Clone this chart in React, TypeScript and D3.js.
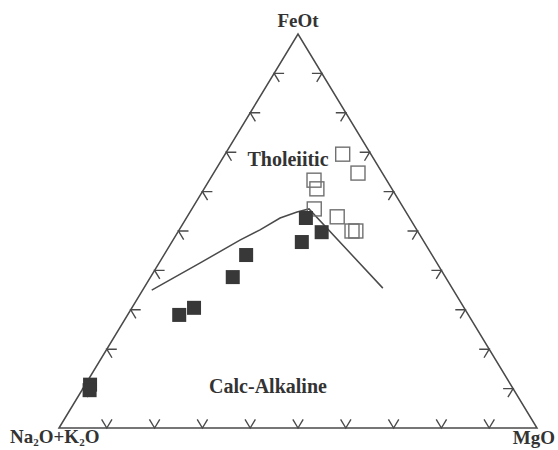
import React from 'react';
import * as d3 from 'd3';

// AFM diagram: values in percent (FeOt, MgO); Na2O+K2O = 100 - FeOt - MgO
const filledFeOt = [11, 9.6, 28.7, 30.5, 38.3, 43.9, 47.2, 53.3, 49.7];
const filledMgO = [1.0, 1.6, 10.8, 13.0, 17.2, 17.2, 27.2, 25.0, 30.1];

const openFeOt = [69.5, 64.7, 62.9, 60.7, 55.6, 53.6, 50.0, 50.0];
const openMgO = [24.6, 30.2, 21.9, 23.6, 25.6, 31.4, 36.3, 37.1];

// Irvine & Baragar dividing line
const lineFeOt = [35.0, 41.9, 47.7, 50.3, 53.3, 54.8, 55.6, 35.5];
const lineMgO = [1.9, 8.6, 14.0, 16.9, 19.6, 22.4, 24.5, 50.0];

const tickValues = [10, 20, 30, 40, 50, 60, 70, 80, 90];

const W = 558;
const H = 450;
const left = 59;
const right = 537;
const top = 34;
const bottom = 428;

const App = () => {
  const xScale = d3.scaleLinear().domain([0, 100]).range([left, right]);
  const yScale = d3.scaleLinear().domain([0, 100]).range([bottom, top]);

  // ternary -> screen
  const proj = (f: number, m: number): [number, number] => [xScale(m + f / 2), yScale(f)];

  const pA = proj(0, 0);
  const pF = proj(100, 0);
  const pM = proj(0, 100);

  const unit = (a: [number, number], b: [number, number], len = 10): [number, number] => {
    const dx = b[0] - a[0];
    const dy = b[1] - a[1];
    const l = Math.hypot(dx, dy);
    return [(dx / l) * len, (dy / l) * len];
  };

  const ticks: { p: [number, number]; d1: [number, number]; d2: [number, number] }[] = [];
  tickValues.forEach((t) => {
    // base
    ticks.push({ p: proj(0, t), d1: unit(pM, pF), d2: unit(pA, pF) });
    // left edge
    ticks.push({ p: proj(t, 0), d1: unit(pA, pM), d2: unit(pF, pM) });
    // right edge
    ticks.push({ p: proj(t, 100 - t), d1: unit(pM, pA), d2: unit(pF, pA) });
  });

  const line = d3.line<[number, number]>();
  const curve = line(lineFeOt.map((f, i) => proj(f, lineMgO[i])));
  const tri = line([pA, pF, pM]) + 'Z';

  const size = 14;
  const grey = '#4a4a4a';
  const font = { fontFamily: '"Liberation Serif", "Times New Roman", serif', fontWeight: 'bold' as const, fill: '#333' };

  return (
    <svg width={W} height={H} style={{ position: 'absolute', left: 0, top: 0, background: '#fff' }}>
      <path d={tri} fill="none" stroke={grey} strokeWidth={1.5} />
      {ticks.map((t, i) => (
        <path
          key={i}
          d={`M${t.p[0] + t.d1[0]},${t.p[1] + t.d1[1]}L${t.p[0]},${t.p[1]}L${t.p[0] + t.d2[0]},${t.p[1] + t.d2[1]}`}
          fill="none"
          stroke={grey}
          strokeWidth={1.4}
        />
      ))}
      <path d={curve ?? ''} fill="none" stroke={grey} strokeWidth={1.5} />
      {openFeOt.map((f, i) => {
        const [x, y] = proj(f, openMgO[i]);
        return (
          <rect key={'o' + i} x={x - size / 2} y={y - size / 2} width={size} height={size} fill="none" stroke="#707070" strokeWidth={1.4} />
        );
      })}
      {filledFeOt.map((f, i) => {
        const [x, y] = proj(f, filledMgO[i]);
        return <rect key={'f' + i} x={x - size / 2} y={y - size / 2} width={size} height={size} fill="#383838" />;
      })}
      <text x={pF[0]} y={27} textAnchor="middle" fontSize={19} {...font}>FeOt</text>
      <text x={288} y={166} textAnchor="middle" fontSize={20} {...font}>Tholeiitic</text>
      <text x={268} y={393} textAnchor="middle" fontSize={20} {...font}>Calc-Alkaline</text>
      <text x={10} y={443} fontSize={19} {...font}>
        Na<tspan fontSize={11} dy={3}>2</tspan>
        <tspan dy={-3}>O+K</tspan>
        <tspan fontSize={11} dy={3}>2</tspan>
        <tspan dy={-3}>O</tspan>
      </text>
      <text x={555} y={444} textAnchor="end" fontSize={19} {...font}>MgO</text>
    </svg>
  );
};

export default App;
